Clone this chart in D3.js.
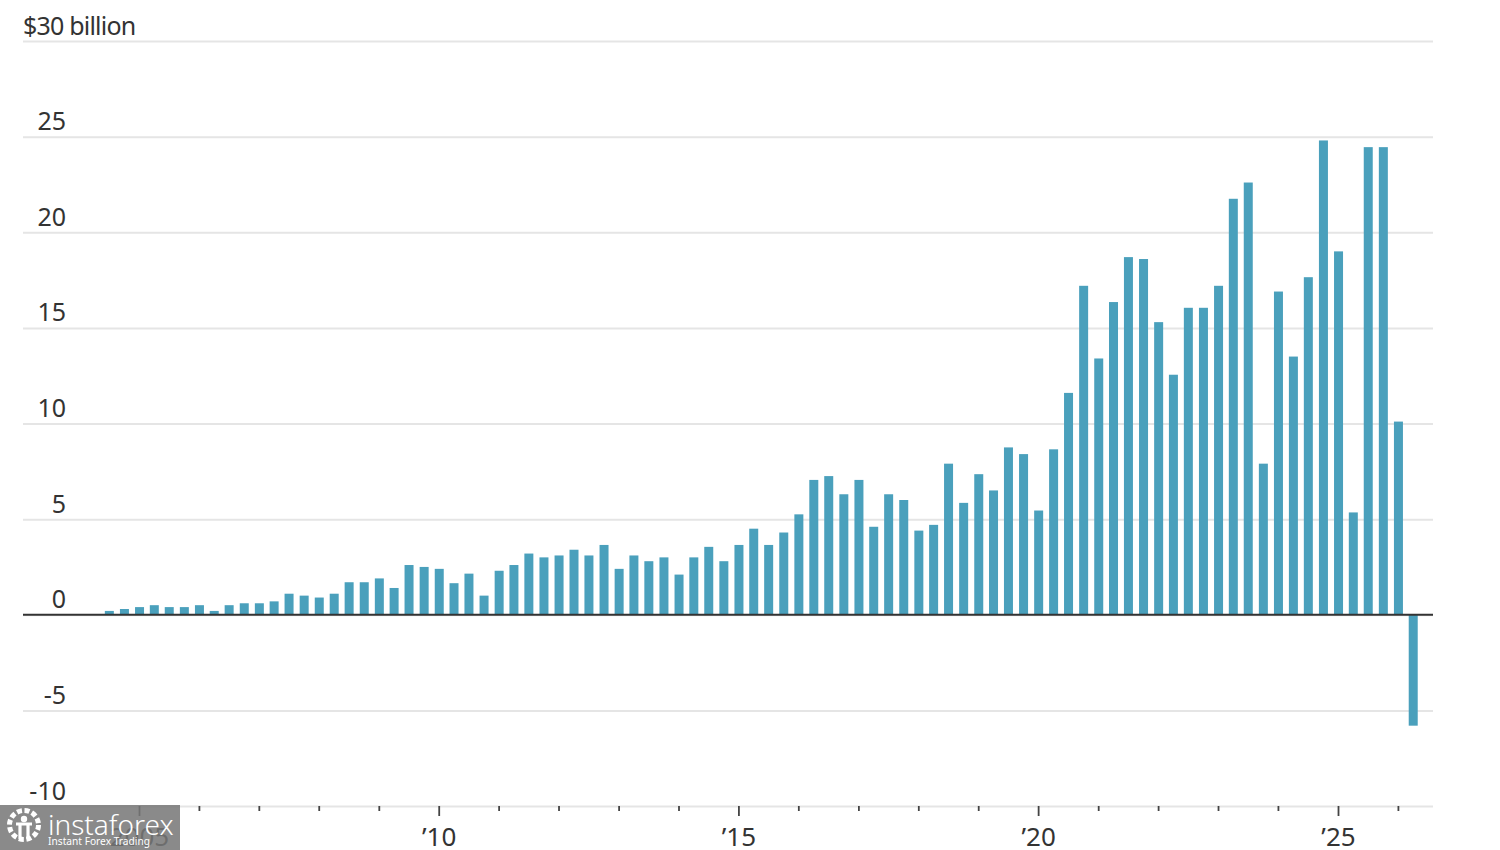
<!DOCTYPE html>
<html>
<head>
<meta charset="utf-8">
<script src="https://cdn.jsdelivr.net/npm/d3@7"></script>
<style>
    html, body { margin: 0; padding: 0; background: #fff; }
    svg { display: block; }
    text { font-family: "Noto Sans", sans-serif; }
</style>
</head>
<body>
<div id="chart"></div>
<script>
// quarter end dates, Q2 2004 to Q1 2026
const quarters = [
    "2004-06-30", "2004-09-30", "2004-12-31",
    "2005-03-31", "2005-06-30", "2005-09-30", "2005-12-31",
    "2006-03-31", "2006-06-30", "2006-09-30", "2006-12-31",
    "2007-03-31", "2007-06-30", "2007-09-30", "2007-12-31",
    "2008-03-31", "2008-06-30", "2008-09-30", "2008-12-31",
    "2009-03-31", "2009-06-30", "2009-09-30", "2009-12-31",
    "2010-03-31", "2010-06-30", "2010-09-30", "2010-12-31",
    "2011-03-31", "2011-06-30", "2011-09-30", "2011-12-31",
    "2012-03-31", "2012-06-30", "2012-09-30", "2012-12-31",
    "2013-03-31", "2013-06-30", "2013-09-30", "2013-12-31",
    "2014-03-31", "2014-06-30", "2014-09-30", "2014-12-31",
    "2015-03-31", "2015-06-30", "2015-09-30", "2015-12-31",
    "2016-03-31", "2016-06-30", "2016-09-30", "2016-12-31",
    "2017-03-31", "2017-06-30", "2017-09-30", "2017-12-31",
    "2018-03-31", "2018-06-30", "2018-09-30", "2018-12-31",
    "2019-03-31", "2019-06-30", "2019-09-30", "2019-12-31",
    "2020-03-31", "2020-06-30", "2020-09-30", "2020-12-31",
    "2021-03-31", "2021-06-30", "2021-09-30", "2021-12-31",
    "2022-03-31", "2022-06-30", "2022-09-30", "2022-12-31",
    "2023-03-31", "2023-06-30", "2023-09-30", "2023-12-31",
    "2024-03-31", "2024-06-30", "2024-09-30", "2024-12-31",
    "2025-03-31", "2025-06-30", "2025-09-30", "2025-12-31",
    "2026-03-31",
];

const values = [
    0.2, 0.3, 0.4,
    0.5, 0.4, 0.4, 0.5,
    0.2, 0.5, 0.6, 0.6,
    0.7, 1.1, 1.0, 0.9,
    1.1, 1.7, 1.7, 1.9,
    1.4, 2.6, 2.5, 2.4,
    1.65, 2.15, 1.0, 2.3,
    2.6, 3.2, 3.0, 3.1,
    3.4, 3.1, 3.65, 2.4,
    3.1, 2.8, 3.0, 2.1,
    3.0, 3.55, 2.8, 3.65,
    4.5, 3.65, 4.3, 5.25,
    7.05, 7.25, 6.3, 7.05,
    4.6, 6.3, 6.0, 4.4,
    4.7, 7.9, 5.85, 7.35,
    6.5, 8.75, 8.4, 5.45,
    8.65, 11.6, 17.2, 13.4,
    16.35, 18.7, 18.6, 15.3,
    12.55, 16.05, 16.05, 17.2,
    21.75, 22.6, 7.9, 16.9,
    13.5, 17.65, 24.8, 19.0,
    5.35, 24.45, 24.45, 10.1,
    -5.8,
];

const yTicks = [-10, -5, 0, 5, 10, 15, 20, 25, 30];
const majorYears = [2005, 2010, 2015, 2020, 2025];
const minorYears = [2006, 2007, 2008, 2009, 2011, 2012, 2013, 2014, 2016, 2017, 2018, 2019, 2021, 2022, 2023, 2024, 2026];

const width = 1500;
const height = 850;
const left = 23;
const right = 1433;

const svg = d3.select("#chart")
    .append("svg")
    .attr("width", width)
    .attr("height", height);

const parseDate = d3.utcParse("%Y-%m-%d");
const yearDate = year => new Date(Date.UTC(year, 0, 1));

const x = d3.scaleUtc()
    .domain([yearDate(2005), yearDate(2025)])
    .range([139, 1338]);

const y = d3.scaleLinear()
    .domain([-10, 30])
    .range([806, 41]);

// gridlines and value labels
const yAxis = svg.append("g")
    .attr("transform", `translate(${left},0)`)
    .call(d3.axisRight(y)
        .tickValues(yTicks)
        .tickSize(right - left)
        .tickFormat(d => d === 30 ? "$30 billion" : d));

yAxis.select(".domain").remove();
yAxis.selectAll(".tick line")
    .attr("stroke", "#e5e5e5")
    .attr("stroke-width", 2);
yAxis.selectAll(".tick text")
    .attr("x", d => d === 30 ? 0 : 43)
    .attr("y", -7)
    .attr("dy", 0)
    .attr("text-anchor", d => d === 30 ? "start" : "end")
    .attr("fill", "#333")
    .style("letter-spacing", d => d === 30 ? "-0.8px" : null)
    .style("font-size", "25px");

// bars
const barWidth = 9;
const barShift = 0.7;
svg.append("g")
    .selectAll("rect")
    .data(values)
    .enter()
    .append("rect")
        .attr("x", (d, i) => x(parseDate(quarters[i])) - barWidth / 2 + barShift)
        .attr("y", d => y(Math.max(d, 0)))
        .attr("width", barWidth)
        .attr("height", d => Math.abs(y(d) - y(0)))
        .attr("fill", "#4aa0bc");

// zero line
svg.append("line")
    .attr("x1", left)
    .attr("x2", right)
    .attr("y1", y(0))
    .attr("y2", y(0))
    .attr("stroke", "#333")
    .attr("stroke-width", 2);

// year ticks
const xAxisMajor = svg.append("g")
    .attr("transform", `translate(0,${y(-10)})`)
    .call(d3.axisBottom(x)
        .tickValues(majorYears.map(yearDate))
        .tickSize(10)
        .tickPadding(12)
        .tickFormat(d => {
            const year = d.getUTCFullYear();
            return year === 2005 ? "2005" : "\u2019" + String(year).slice(2);
        }));

xAxisMajor.select(".domain").remove();
xAxisMajor.selectAll(".tick line").attr("stroke", "#444").attr("stroke-width", 1.8);
xAxisMajor.selectAll(".tick text")
    .attr("fill", "#333")
    .style("font-size", "26px");

const xAxisMinor = svg.append("g")
    .attr("transform", `translate(0,${y(-10)})`)
    .call(d3.axisBottom(x)
        .tickValues(minorYears.map(yearDate))
        .tickSize(5)
        .tickFormat(""));

xAxisMinor.select(".domain").remove();
xAxisMinor.selectAll(".tick line").attr("stroke", "#444").attr("stroke-width", 1.8);

// watermark sitting over the corner of the chart
const mark = svg.append("g");

mark.append("rect")
    .attr("x", 0)
    .attr("y", 805)
    .attr("width", 180)
    .attr("height", 45)
    .attr("fill", "#777")
    .attr("opacity", 0.86);

mark.append("circle")
    .attr("cx", 24)
    .attr("cy", 825)
    .attr("r", 14.5)
    .attr("fill", "none")
    .attr("stroke", "#fff")
    .attr("stroke-width", 5)
    .attr("stroke-dasharray", "5 2.6");

mark.append("circle")
    .attr("cx", 24)
    .attr("cy", 819)
    .attr("r", 3.2)
    .attr("fill", "#fff");

mark.append("path")
    .attr("d", "M16 824 L32 824 M20 824 L20 839 M28 824 L28 839")
    .attr("fill", "none")
    .attr("stroke", "#fff")
    .attr("stroke-width", 3.2);

mark.append("text")
    .attr("x", 48)
    .attr("y", 835)
    .attr("fill", "#fff")
    .style("font-size", "28px")
    .style("font-weight", 300)
    .text("instaforex");

mark.append("text")
    .attr("x", 48)
    .attr("y", 845)
    .attr("fill", "#fff")
    .style("font-size", "10.2px")
    .text("Instant Forex Trading");
</script>
</body>
</html>
